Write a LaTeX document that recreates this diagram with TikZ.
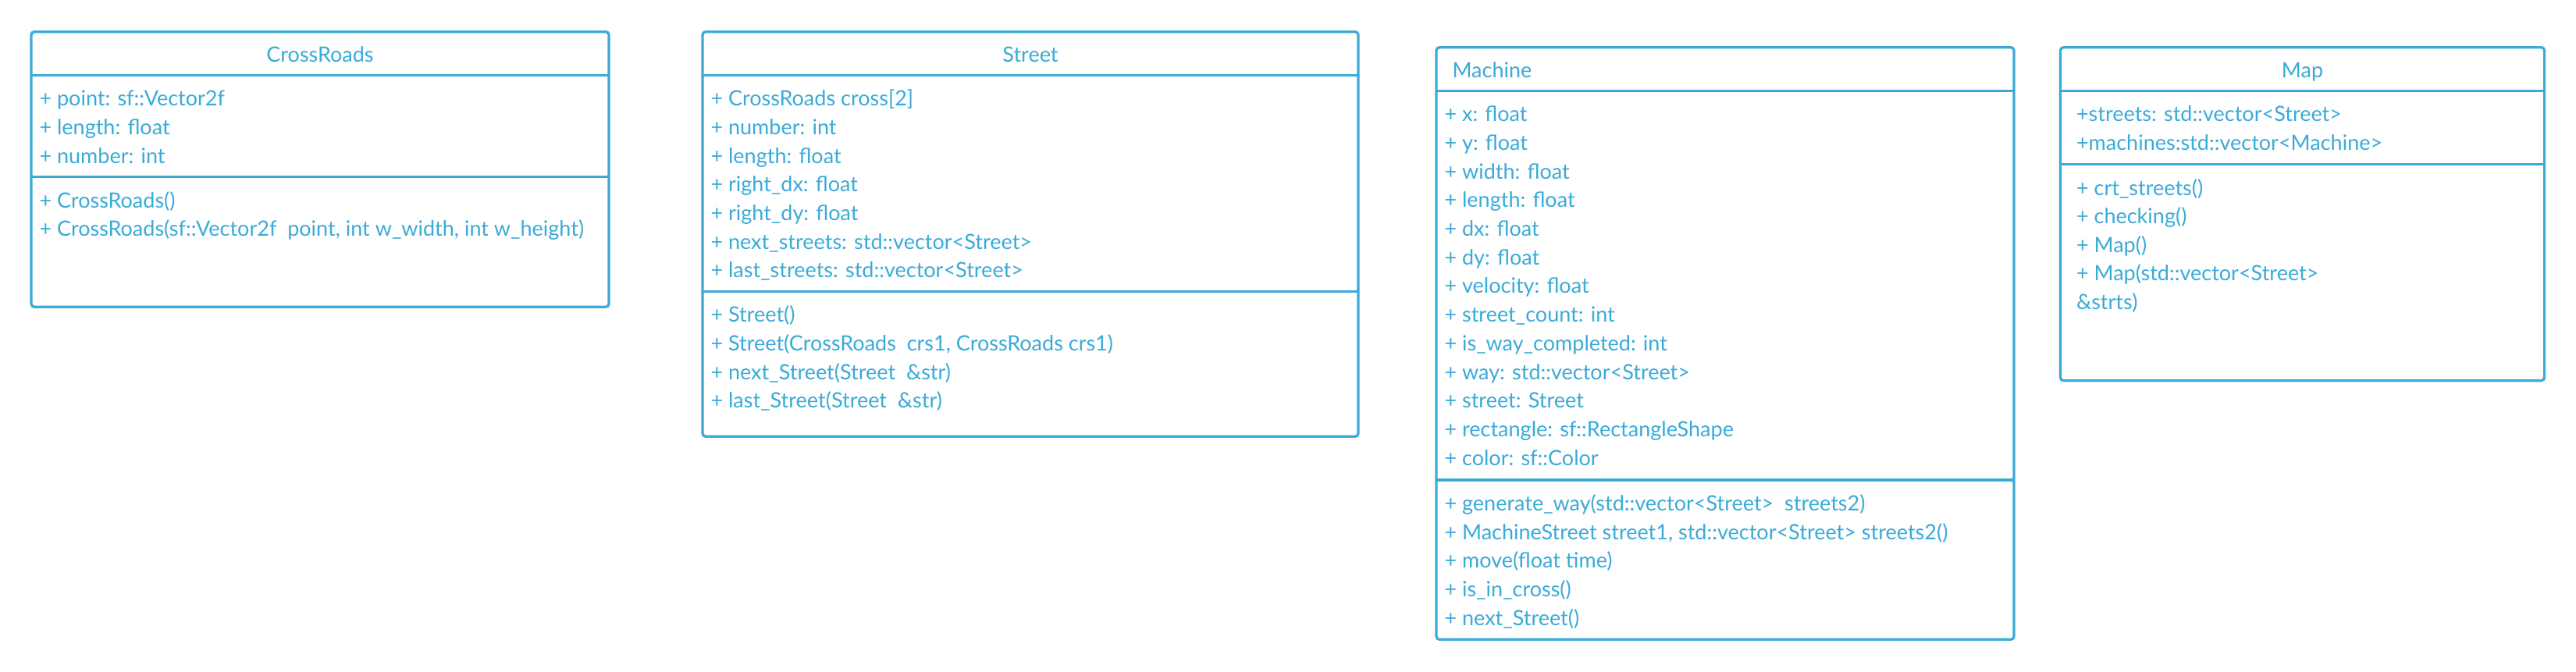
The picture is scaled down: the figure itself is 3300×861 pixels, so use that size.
\documentclass[tikz,border=0pt]{standalone}
\usepackage{fontspec}
\setmainfont{Lato}
\definecolor{umlblue}{RGB}{58,171,216}
\begin{document}
\begin{tikzpicture}[x=1pt,y=-1pt,
  umlbox/.style={draw=umlblue,line width=3.3pt,rounded corners=4pt,rectangle,inner sep=0pt,outer sep=0pt},
  divider/.style={draw=umlblue,line width=3.3pt},
  txt/.style={text=umlblue,inner sep=0pt,outer sep=0pt,font=\fontsize{27}{33}\selectfont},
  attr/.style={txt,anchor=base west},
  ttl/.style={txt,anchor=base}]
\useasboundingbox (0,0) rectangle (3300,861);
\fill[white] (0,0) rectangle (3300,861);

% boxes
\node[umlbox,minimum width=740pt,minimum height=352.6pt] (cr) at (410,217) {};
\node[umlbox,minimum width=840pt,minimum height=518.6pt] (st) at (1320,300) {};
\node[umlbox,minimum width=740pt,minimum height=758.6pt] (ma) at (2210,440) {};
\node[umlbox,minimum width=620pt,minimum height=427pt] (mp) at (2949.5,274.2) {};

% dividers
\draw[divider] (cr.west |- 0,96.3) -- (cr.east |- 0,96.3);
\draw[divider] (cr.west |- 0,226.7) -- (cr.east |- 0,226.7);
\draw[divider] (st.west |- 0,96.3) -- (st.east |- 0,96.3);
\draw[divider] (st.west |- 0,373.3) -- (st.east |- 0,373.3);
\draw[divider] (ma.west |- 0,116.3) -- (ma.east |- 0,116.3);
\draw[divider] (ma.west |- 0,615) -- (ma.east |- 0,615);
\draw[divider] (mp.west |- 0,116.3) -- (mp.east |- 0,116.3);
\draw[divider] (mp.west |- 0,210.7) -- (mp.east |- 0,210.7);

% titles
\node[ttl] (crt) at (410,79.3) {CrossRoads};
\node[ttl] (stt) at (1320,79.3) {Street};
\node[attr] (mat) at (1860.5,99.2) {Machine};
\node[ttl] (mpt) at (2949.5,99.2) {Map};

% CrossRoads
\foreach \t [count=\i from 0] in {{+ point: sf::Vector2f},{+ length: float},{+ number: int}}
  \node[attr] (cra\i) at (50.5,135.7+36.7*\i) {\t};
\foreach \t [count=\i from 0] in {{+ CrossRoads()},{+ CrossRoads(sf::Vector2f~ point, int w\_width, int w\_height)}}
  \node[attr] (crm\i) at (50.5,266.1+36.7*\i) {\t};

% Street
\foreach \t [count=\i from 0] in {{+ CrossRoads cross[2]},{+ number: int},{+ length: float},{+ right\_dx: float},{+ right\_dy: float},{+ next\_streets: std::vector<Street>},{+ last\_streets: std::vector<Street>}}
  \node[attr] (sta\i) at (910.5,135.7+36.7*\i) {\t};
\foreach \t [count=\i from 0] in {{+ Street()},{+ Street(CrossRoads~ crs1, CrossRoads crs1)},{+ next\_Street(Street~ \&str)},{+ last\_Street(Street~ \&str)}}
  \node[attr] (stm\i) at (910.5,412.7+36.7*\i) {\t};

% Machine
\foreach \t [count=\i from 0] in {{+ x: float},{+ y: float},{+ width: float},{+ length: float},{+ dx: float},{+ dy: float},{+ velocity: float},{+ street\_count: int},{+ is\_way\_completed: int},{+ way: std::vector<Street>},{+ street: Street},{+ rectangle: sf::RectangleShape},{+ color: sf::Color}}
  \node[attr] (maa\i) at (1850.5,155.7+36.7*\i) {\t};
\foreach \t [count=\i from 0] in {{+ generate\_way(std::vector<Street>~ streets2)},{+ MachineStreet street1, std::vector<Street> streets2()},{+ move(float time)},{+ is\_in\_cross()},{+ next\_Street()}}
  \node[attr] (mam\i) at (1850.5,654.4+36.7*\i) {\t};

% Map
\foreach \t [count=\i from 0] in {{+streets: std::vector<Street>},{+machines:std::vector<Machine>}}
  \node[attr] (mpa\i) at (2660,155.7+36.7*\i) {\t};
\foreach \t [count=\i from 0] in {{+ crt\_streets()},{+ checking()},{+ Map()},{+ Map(std::vector<Street>},{\&strts)}}
  \node[attr] (mpm\i) at (2660,250.1+36.5*\i) {\t};
\end{tikzpicture}
\end{document}
